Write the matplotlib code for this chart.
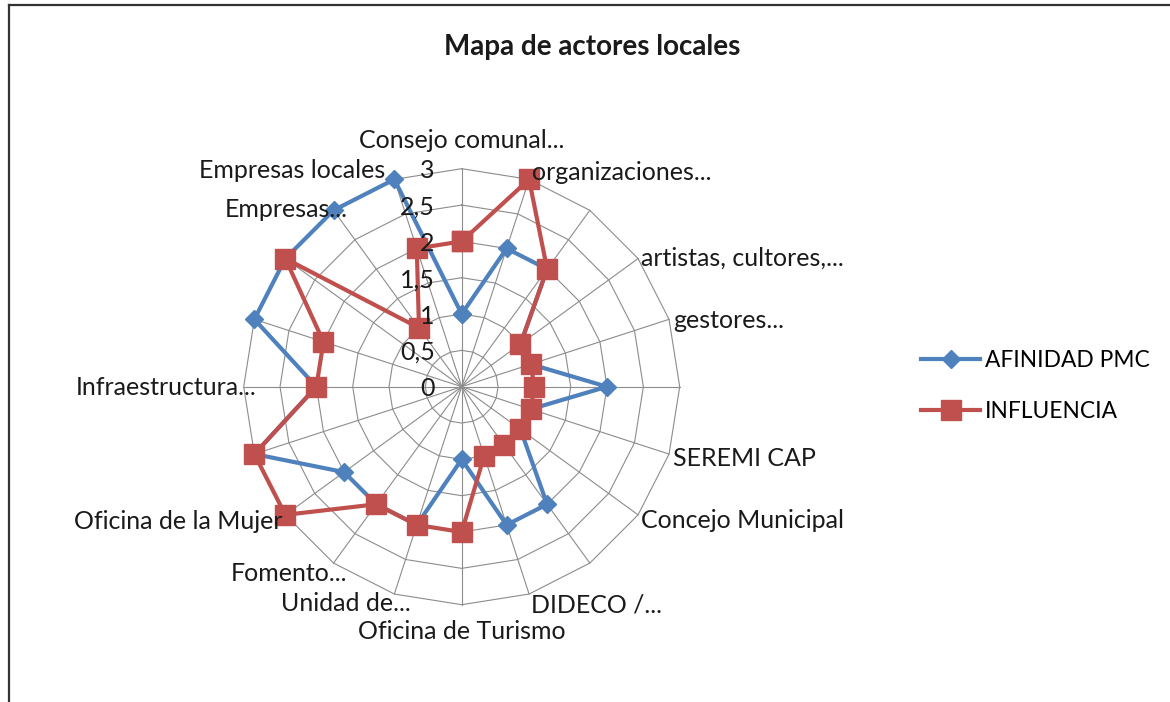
import numpy as np
import matplotlib
matplotlib.use("Agg")
import matplotlib.pyplot as plt
from matplotlib.transforms import offset_copy
from matplotlib.lines import Line2D

# ---------------- data ----------------
categories = [
    "Consejo comunal...", "organizaciones...", "", "artistas, cultores,...",
    "gestores...", "", "SEREMI CAP", "Concejo Municipal", "", "DIDECO /...",
    "Oficina de Turismo", "Unidad de...", "Fomento...", "Oficina de la Mujer",
    "", "Infraestructura...", "", "", "Empresas...", "Empresas locales",
]
afinidad_pmc = [1, 2, 2, 1, 1, 2, 1, 1, 2, 2, 1, 2, 2, 2, 3, 2, 3, 3, 3, 3]
influencia = [2, 3, 2, 1, 1, 1, 1, 1, 1, 1, 2, 2, 2, 3, 3, 2, 2, 3, 1, 2]
series_names = ["AFINIDAD PMC", "INFLUENCIA"]
r_ticks = [0, 0.5, 1, 1.5, 2, 2.5, 3]
r_tick_labels = ["0", "0,5", "1", "1,5", "2", "2,5", "3"]
title = "Mapa de actores locales"

plt.rcParams["font.family"] = ["Lato", "DejaVu Sans"]

W, H = 1170, 702
fig = plt.figure(figsize=(W / 100, H / 100), dpi=100)

cx, cy, R = 461.7, 386.7, 218.0
ax = fig.add_axes([(cx - R) / W, (H - cy - R) / H, 2 * R / W, 2 * R / H],
                  projection="polar")
ax.set_theta_zero_location("N")
ax.set_theta_direction(-1)
ax.set_ylim(0, 3)
ax.grid(False)
ax.set_xticks([])
ax.set_yticks([])
ax.spines["polar"].set_visible(False)
ax.patch.set_alpha(0)

n = len(categories)
theta = np.linspace(0, 2 * np.pi, n, endpoint=False)
theta_c = np.append(theta, theta[0])

grid_col = "#8c8c8c"
for lv in r_ticks[1:]:
    ax.plot(theta_c, [lv] * (n + 1), color=grid_col, lw=0.8, zorder=1,
            clip_on=False)
for t in theta:
    ax.plot([t, t], [0, 3], color=grid_col, lw=0.8, zorder=1, clip_on=False)

blue = "#4F81BD"
red = "#C0504D"
a = np.append(afinidad_pmc, afinidad_pmc[0])
b = np.append(influencia, influencia[0])
ax.plot(theta_c, a, color=blue, lw=3.0, marker="D", ms=9.5,
        mfc=blue, mec=blue, zorder=3, label=series_names[0], clip_on=False)
ax.plot(theta_c, b, color=red, lw=3.0, marker="s", ms=15,
        mfc=red, mec=red, zorder=4, label=series_names[1], clip_on=False)

fs = 18
txt_col = "#1a1a1a"
# radial tick labels
for v, lab in zip(r_ticks, r_tick_labels):
    tr = offset_copy(ax.transData, fig=fig, x=-27, y=-2, units="dots")
    ax.text(0, v, lab, transform=tr, ha="right", va="center", fontsize=fs,
            color=txt_col, clip_on=False, zorder=5)

# category labels: (ha, dx, dy) in pixels, dy downward
lab_pos = {
    0: ("center", 0, -28), 1: ("left", 3, -7), 3: ("left", 3, 0),
    4: ("left", 4, 1), 6: ("left", 4, 4), 7: ("left", 3, 6),
    9: ("left", 2, 11), 10: ("center", 0, 27), 11: ("right", 16, 9),
    12: ("right", 14, 10), 13: ("right", -3, 7), 15: ("right", 13, 1),
    18: ("right", 14, -1), 19: ("right", -9, -9),
}
for i, lab in enumerate(categories):
    if not lab:
        continue
    ha, dx, dy = lab_pos[i]
    tr = offset_copy(ax.transData, fig=fig, x=dx, y=-dy, units="dots")
    ax.text(theta[i], 3, lab, transform=tr, ha=ha, va="center", fontsize=fs,
            color=txt_col, clip_on=False, zorder=5)

fig.text(592 / W, 1 - 47 / H, title, ha="center", va="center",
         fontsize=20, fontweight="bold", color=txt_col)

fig.legend(loc="center left", bbox_to_anchor=(912 / W, 1 - 386 / H),
           frameon=False, fontsize=16.4, handlelength=2.6, handletextpad=0.2,
           labelspacing=1.35, borderaxespad=0)

# outer frame (top and left edges)
fig.add_artist(Line2D([9 / W, 1], [1 - 5 / H, 1 - 5 / H], transform=fig.transFigure,
                      color="#333333", lw=1.6))
fig.add_artist(Line2D([9 / W, 9 / W], [0, 1 - 5 / H], transform=fig.transFigure,
                      color="#333333", lw=1.6))

fig.savefig("out.png", dpi=100)
